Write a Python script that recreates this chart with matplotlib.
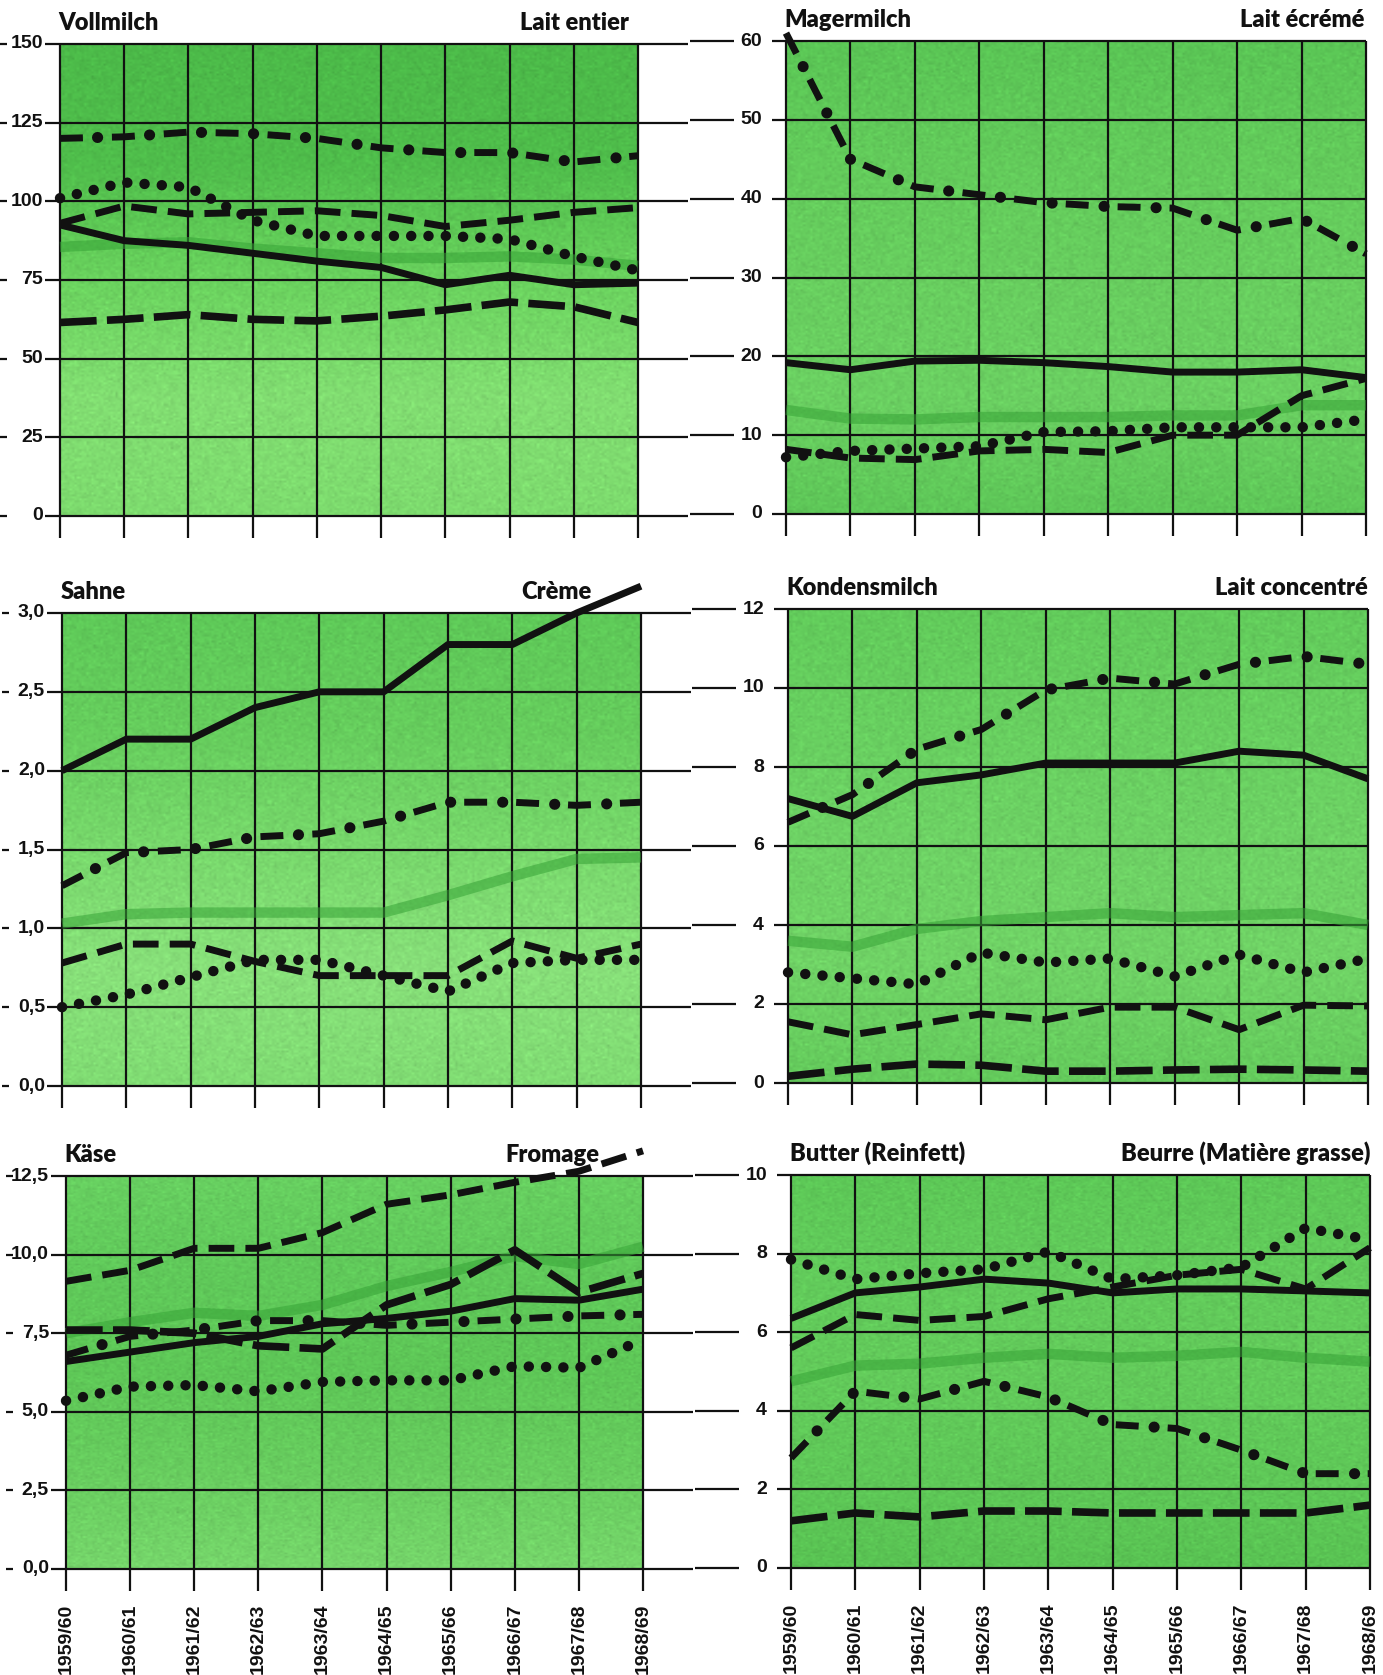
import numpy as np
import matplotlib
matplotlib.use('Agg')
import matplotlib.pyplot as plt
from matplotlib.colors import to_rgb

# Seasons on the x axis
years = ['1959/60', '1960/61', '1961/62', '1962/63', '1963/64',
         '1964/65', '1965/66', '1966/67', '1967/68', '1968/69']

# Vollmilch / Lait entier
voll_solid = [92.5, 87.5, 86, 83.5, 81, 79, 73.5, 76.5, 73.5, 74]
voll_dashdot = [120, 120.5, 122, 121.5, 120, 117, 115.5, 115.5, 112.5, 114.5]
voll_dotted = [101, 106, 104.5, 94, 89, 89, 89, 88, 82.5, 78]
voll_dashed = [93, 98.5, 96, 96.5, 97, 95.5, 92, 94, 96.5, 98]
voll_longdash = [61.5, 62.5, 64, 62.5, 62, 63.5, 65.5, 68, 66.5, 61.5]
voll_eec = [85.5, 86.5, 87, 85, 83.5, 82, 82, 82.5, 81.5, 79.5]

# Magermilch / Lait écrémé
mager_solid = [19.2, 18.3, 19.4, 19.5, 19.2, 18.7, 18, 18, 18.3, 17.3]
mager_dashdot = [61, 45, 41.5, 40.5, 39.5, 39, 38.8, 36, 37.5, 33]
mager_dotted = [7.2, 8, 8.3, 8.6, 10.4, 10.5, 11, 11, 11, 12]
mager_dashed = [8.2, 7.1, 6.9, 8, 8.2, 7.8, 10, 10, 15, 17.2]
mager_eec = [13.2, 12.1, 12, 12.3, 12.3, 12.3, 12.5, 12.5, 13.8, 13.8]

# Sahne / Crème
sahne_solid = [2.0, 2.2, 2.2, 2.4, 2.5, 2.5, 2.8, 2.8, 3.0, 3.17]
sahne_dashdot = [1.27, 1.48, 1.5, 1.58, 1.6, 1.68, 1.8, 1.8, 1.78, 1.8]
sahne_dotted = [0.5, 0.58, 0.69, 0.8, 0.8, 0.7, 0.6, 0.78, 0.8, 0.8]
sahne_dashed = [0.78, 0.9, 0.9, 0.79, 0.7, 0.7, 0.7, 0.92, 0.81, 0.9]
sahne_eec = [1.03, 1.09, 1.1, 1.1, 1.1, 1.1, 1.21, 1.33, 1.44, 1.45]

# Kondensmilch / Lait concentré
kond_solid = [7.2, 6.75, 7.6, 7.8, 8.1, 8.1, 8.1, 8.4, 8.3, 7.7]
kond_dashdot = [6.6, 7.3, 8.45, 8.95, 9.95, 10.25, 10.1, 10.6, 10.8, 10.6]
kond_dotted = [2.8, 2.65, 2.5, 3.3, 3.05, 3.15, 2.7, 3.25, 2.8, 3.15]
kond_dashed = [1.55, 1.22, 1.48, 1.75, 1.6, 1.92, 1.92, 1.35, 1.97, 1.95]
kond_longdash = [0.17, 0.35, 0.48, 0.45, 0.3, 0.3, 0.33, 0.35, 0.33, 0.3]
kond_eec = [3.6, 3.45, 3.9, 4.1, 4.2, 4.3, 4.2, 4.25, 4.3, 4.0]

# Käse / Fromage
kaese_solid = [6.6, 6.9, 7.2, 7.4, 7.8, 7.97, 8.2, 8.6, 8.55, 8.9]
kaese_dashdot = [6.8, 7.4, 7.6, 7.9, 7.9, 7.75, 7.85, 7.95, 8.05, 8.1]
kaese_dotted = [5.35, 5.8, 5.85, 5.65, 5.95, 6.0, 6.0, 6.45, 6.4, 7.3]
kaese_dashed = [9.15, 9.5, 10.2, 10.2, 10.7, 11.6, 11.9, 12.3, 12.65, 13.3]
kaese_longdash = [7.6, 7.6, 7.5, 7.1, 7.0, 8.4, 9.05, 10.15, 8.8, 9.4]
kaese_eec = [7.5, 7.85, 8.15, 8.05, 8.4, 9.0, 9.45, 9.95, 9.7, 10.25]

# Butter (Reinfett) / Beurre (Matière grasse)
butter_solid = [6.35, 7.0, 7.15, 7.35, 7.25, 7.0, 7.1, 7.1, 7.05, 7.0]
butter_dashdot = [2.8, 4.5, 4.3, 4.75, 4.35, 3.65, 3.55, 3.0, 2.4, 2.4]
butter_dotted = [7.85, 7.35, 7.5, 7.6, 8.05, 7.35, 7.45, 7.65, 8.65, 8.35]
butter_dashed = [5.6, 6.45, 6.3, 6.4, 6.85, 7.15, 7.45, 7.6, 7.1, 8.15]
butter_longdash = [1.2, 1.4, 1.3, 1.45, 1.45, 1.4, 1.4, 1.4, 1.4, 1.6]
butter_eec = [4.75, 5.15, 5.2, 5.35, 5.45, 5.35, 5.4, 5.5, 5.35, 5.25]

voll_ticks = ['0', '25', '50', '75', '100', '125', '150']
mager_ticks = ['0', '10', '20', '30', '40', '50', '60']
sahne_ticks = ['0,0', '0,5', '1,0', '1,5', '2,0', '2,5', '3,0']
kond_ticks = ['0', '2', '4', '6', '8', '10', '12']
kaese_ticks = ['0,0', '2,5', '5,0', '7,5', '10,0', '12,5']
butter_ticks = ['0', '2', '4', '6', '8', '10']

W, H = 1383, 1675
fig = plt.figure(figsize=(W / 100, H / 100), dpi=100)
fig.patch.set_facecolor('white')

INK = '#111111'
TICK_FONT = ['Liberation Sans Narrow', 'Liberation Sans', 'DejaVu Sans']
TITLE_FONT = ['Lato', 'DejaVu Sans']

# panel: (title_de, title_fr, fr_pos, box px (L, T, R, B), ymax, step, ticks, series, side,
#         background colour stops top -> bottom)
panels = [
    ('Vollmilch', 'Lait entier', 0.985, (60, 44, 638, 516), 150, 25, voll_ticks,
     dict(eec=voll_eec, longdash=voll_longdash, dashed=voll_dashed, dotted=voll_dotted,
          dashdot=voll_dashdot, solid=voll_solid), 'left',
     ('#4cba49', '#4fbd4b', '#6ad25e', '#82de72', '#7ddb6e')),
    ('Magermilch', 'Lait écrémé', 0.998, (786, 41, 1366, 514), 60, 10, mager_ticks,
     dict(eec=mager_eec, dashed=mager_dashed, dotted=mager_dotted,
          dashdot=mager_dashdot, solid=mager_solid), 'right',
     ('#5ac555', '#63cb5b', '#68ce5f', '#6bd062', '#5ec758')),
    ('Sahne', 'Crème', 0.915, (62, 613, 641, 1086), 3.0, 0.5, sahne_ticks,
     dict(eec=sahne_eec, dashed=sahne_dashed, dotted=sahne_dotted,
          dashdot=sahne_dashdot, solid=sahne_solid), 'left',
     ('#5ec958', '#66cd5d', '#78d86c', '#88e07a', '#80dc73')),
    ('Kondensmilch', 'Lait concentré', 1.0, (788, 609, 1368, 1083), 12, 2, kond_ticks,
     dict(eec=kond_eec, longdash=kond_longdash, dashed=kond_dashed, dotted=kond_dotted,
          dashdot=kond_dashdot, solid=kond_solid), 'right',
     ('#62cb5b', '#68cf60', '#6ed265', '#70d366', '#64cb5c')),
    ('Käse', 'Fromage', 0.925, (66, 1176, 643, 1569), 12.5, 2.5, kaese_ticks,
     dict(eec=kaese_eec, longdash=kaese_longdash, dashed=kaese_dashed, dotted=kaese_dotted,
          dashdot=kaese_dashdot, solid=kaese_solid), 'left',
     ('#68d061', '#60c95a', '#5ec757', '#68cd5f', '#76d66b')),
    ('Butter (Reinfett)', 'Beurre (Matière grasse)', 1.0, (791, 1175, 1370, 1568), 10, 2,
     butter_ticks,
     dict(eec=butter_eec, longdash=butter_longdash, dashed=butter_dashed, dotted=butter_dotted,
          dashdot=butter_dashdot, solid=butter_solid), 'right',
     ('#5dc857', '#62cb5b', '#63cb5b', '#5fc858', '#59c353')),
]

x = np.arange(len(years))


def draw_series(ax, kind, vals):
    kw = dict(color=INK, clip_on=False, solid_joinstyle='round')
    if kind == 'eec':
        ax.plot(x, vals, color='#36a336', lw=7.5, alpha=0.55, zorder=2,
                solid_capstyle='butt', clip_on=False)
    elif kind == 'solid':
        ax.plot(x, vals, lw=5, zorder=4, solid_capstyle='butt', **kw)
    elif kind == 'dashed':
        ax.plot(x, vals, lw=5, ls=(0, (3.7, 1.6)), dash_capstyle='butt', zorder=4, **kw)
    elif kind == 'longdash':
        ax.plot(x, vals, lw=5.5, ls=(0, (4.8, 1.35)), dash_capstyle='butt', zorder=4, **kw)
    elif kind == 'dotted':
        ax.plot(x, vals, lw=7.5, ls=(0, (0.01, 1.65)), dash_capstyle='round', zorder=4, **kw)
    elif kind == 'dashdot':
        # dashes and the larger round dots are drawn as two passes on one path
        period = 37.4
        ax.plot(x, vals, lw=5, ls=(0, (16.5 / 5, (period - 16.5) / 5)),
                dash_capstyle='butt', zorder=4, **kw)
        ax.plot(x, vals, lw=8, ls=(10.45 / 8, (0.01, period / 8)),
                dash_capstyle='round', zorder=4, **kw)


for (t_de, t_fr, fr_pos, box, ymax, step, ticks, series, side, cols) in panels:
    L, T, R, B = box
    wpx, hpx = R - L, B - T
    ax = fig.add_axes([L / W, 1 - B / H, wpx / W, hpx / H])
    ax.set_xlim(0, len(years) - 1)
    ax.set_ylim(0, ymax)
    ax.axis('off')

    # green background with soft vertical shading and a little print grain
    stops = np.array([to_rgb(c) for c in cols])
    t = np.linspace(0, 1, 240)
    pos = np.linspace(0, 1, len(stops))
    grad = np.stack([np.interp(t, pos, stops[:, k]) for k in range(3)], axis=-1)
    rng = np.random.default_rng(3)
    tex = grad[:, None, :] * (1 + 0.03 * rng.standard_normal((240, 240, 1)))
    ax.imshow(np.clip(tex, 0, 1), extent=(0, 1, 0, 1), transform=ax.transAxes,
              aspect='auto', zorder=0, interpolation='bilinear')

    # grid lines, extended past the plot area like the printed chart
    yvals = np.arange(0, ymax + step / 2, step)
    for yv, lab in zip(yvals, ticks):
        yf = yv / ymax
        if side == 'left':
            segs = [((-60) / wpx, (-53) / wpx), ((-15) / wpx, 1 + 50 / wpx)]
            lab_x = -17 / wpx
        else:
            segs = [((-96) / wpx, (-52) / wpx), ((-14) / wpx, 1.0)]
            lab_x = -24 / wpx
        for x0, x1 in segs:
            ax.plot([x0, x1], [yf, yf], transform=ax.transAxes, color=INK, lw=1.6,
                    clip_on=False, zorder=1, solid_capstyle='butt')
        ax.text(lab_x, yf, lab, transform=ax.transAxes, ha='right', va='center',
                fontsize=14, fontweight='bold', family=TICK_FONT, color=INK)

    ext = 22 / hpx
    for xi in x:
        xf = xi / (len(years) - 1)
        ax.plot([xf, xf], [-ext, 1], transform=ax.transAxes, color=INK, lw=1.6,
                clip_on=False, zorder=1, solid_capstyle='butt')

    for kind, vals in series.items():
        draw_series(ax, kind, vals)

    ax.annotate(t_de, xy=(0, 1), xycoords='axes fraction', xytext=(-1, 10),
                textcoords='offset points', ha='left', va='baseline',
                fontsize=17, fontweight='heavy', family=TITLE_FONT, color=INK)
    ax.annotate(t_fr, xy=(fr_pos, 1), xycoords='axes fraction', xytext=(0, 10),
                textcoords='offset points', ha='right', va='baseline',
                fontsize=17, fontweight='heavy', family=TITLE_FONT, color=INK)

    if B > 1500:
        for xi, lab in zip(x, years):
            ax.annotate(lab, xy=(xi, 0), xycoords='data', xytext=(0, -25),
                        textcoords='offset points', ha='center', va='top', rotation=90,
                        fontsize=14, fontweight='bold', family=TICK_FONT, color=INK)

fig.savefig('out.png', dpi=100, facecolor='white')
